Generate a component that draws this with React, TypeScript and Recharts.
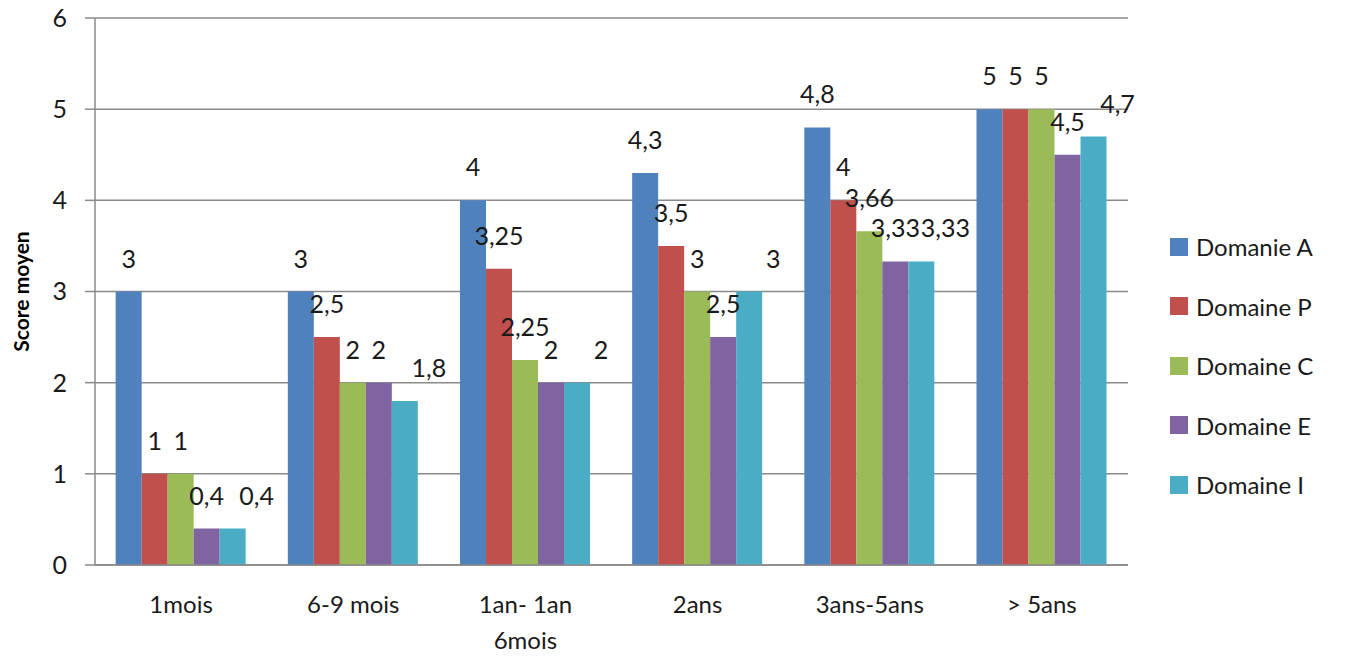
import { Bar, BarChart, CartesianGrid, LabelList, Legend, XAxis, YAxis } from "recharts";

const categories = ["1mois", "6-9 mois", "1an- 1an\n6mois", "2ans", "3ans-5ans", "> 5ans"];
const domaineA = [3, 3, 4, 4.3, 4.8, 5];
const domaineP = [1, 2.5, 3.25, 3.5, 4, 5];
const domaineC = [1, 2, 2.25, 3, 3.66, 5];
const domaineE = [0.4, 2, 2, 2.5, 3.33, 4.5];
const domaineI = [0.4, 1.8, 2, 3, 3.33, 4.7];
const yTicks = [0, 1, 2, 3, 4, 5, 6];

const series = [
  { key: "a", name: "Domanie A", values: domaineA, color: "#4F81BD", shift: 0 },
  { key: "p", name: "Domaine P", values: domaineP, color: "#C0504D", shift: 0 },
  { key: "c", name: "Domaine C", values: domaineC, color: "#9BBB59", shift: 0 },
  { key: "e", name: "Domaine E", values: domaineE, color: "#8064A2", shift: 0 },
  { key: "i", name: "Domaine I", values: domaineI, color: "#4BACC6", shift: 24 },
];

const data = categories.map((cat, idx) => {
  const row: Record<string, string | number> = { cat };
  series.forEach((s) => {
    row[s.key] = s.values[idx];
  });
  return row;
});

const FONT = "Lato, 'Open Sans', sans-serif";
const fmt = (v: any) => String(v).replace(".", ",");

function CatTick({ x, y, payload }: any) {
  const lines = String(payload.value).split("\n");
  return (
    <text x={x} y={y} textAnchor="middle" fill="#1a1a1a" fontSize={24} fontFamily={FONT}>
      {lines.map((ln, i) => (
        <tspan key={i} x={x} dy={i === 0 ? 40 : 36}>
          {ln}
        </tspan>
      ))}
    </text>
  );
}

// value label above each bar, nudged sideways per series like the original
const makeLabel = (shift: number) => (props: any) => {
  const { x, y, width, value } = props;
  return (
    <text
      x={Number(x) + Number(width) / 2 + shift}
      y={Number(y) - 24}
      textAnchor="middle"
      fill="#1a1a1a"
      fontSize={25}
      fontFamily={FONT}
    >
      {fmt(value)}
    </text>
  );
};

function LegendBox() {
  return (
    <div style={{ width: 170, fontFamily: FONT, fontSize: 24, color: "#1a1a1a" }}>
      {series.map((s) => (
        <div key={s.key} style={{ display: "flex", alignItems: "center", height: 59.5 }}>
          <span style={{ width: 18, height: 18, background: s.color, marginRight: 8, display: "inline-block" }} />
          <span>{s.name}</span>
        </div>
      ))}
    </div>
  );
}

export default function App() {
  return (
    <div style={{ position: "absolute", left: 0, top: 0, background: "#fff" }}>
      <BarChart
        width={1354}
        height={659}
        data={data}
        margin={{ top: 18, right: 56, bottom: 0, left: 0 }}
        barCategoryGap="12%"
        barGap={0}
      >
        <CartesianGrid vertical={false} stroke="#8a8a8a" strokeWidth={1.5} />
        <XAxis
          dataKey="cat"
          height={94}
          interval={0}
          tickLine={false}
          stroke="#8a8a8a"
          strokeWidth={1.5}
          tick={<CatTick />}
        />
        <YAxis
          width={95}
          domain={[0, 6]}
          ticks={yTicks}
          tickSize={10}
          tickMargin={18}
          stroke="#8a8a8a"
          strokeWidth={1.5}
          tick={{ fill: "#1a1a1a", fontSize: 25, fontFamily: FONT }}
          label={{
            value: "Score moyen",
            angle: -90,
            position: "insideLeft",
            offset: 22,
            style: { textAnchor: "middle", fontWeight: 700, fontSize: 21, fill: "#000", fontFamily: FONT },
          }}
        />
        <Legend
          layout="vertical"
          align="right"
          verticalAlign="top"
          wrapperStyle={{ top: 217, right: 14 }}
          content={<LegendBox />}
        />
        {series.map((s) => (
          <Bar key={s.key} dataKey={s.key} name={s.name} fill={s.color} isAnimationActive={false}>
            <LabelList dataKey={s.key} content={makeLabel(s.shift)} />
          </Bar>
        ))}
      </BarChart>
    </div>
  );
}
